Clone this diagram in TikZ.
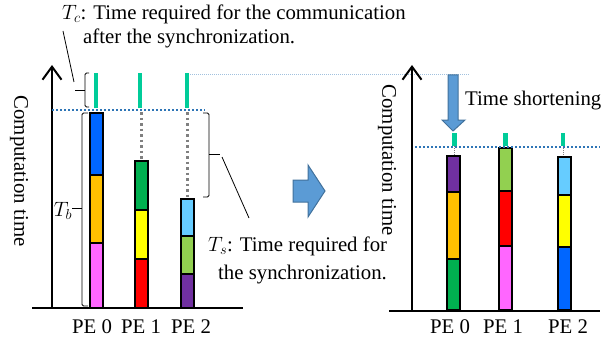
\documentclass[tikz,border=0pt]{standalone}
\usepackage{fontspec}
\setmainfont{Liberation Serif}
\usetikzlibrary{arrows.meta}

\definecolor{pblue}{RGB}{0,102,255}
\definecolor{porange}{RGB}{255,192,0}
\definecolor{ppink}{RGB}{255,102,255}
\definecolor{pgreen}{RGB}{0,176,80}
\definecolor{pyellow}{RGB}{255,255,0}
\definecolor{pred}{RGB}{255,0,0}
\definecolor{psky}{RGB}{102,204,255}
\definecolor{plime}{RGB}{146,208,80}
\definecolor{ppurple}{RGB}{112,48,160}
\definecolor{commteal}{RGB}{0,204,153}
\definecolor{syncblue}{RGB}{46,117,182}
\definecolor{arrowfill}{RGB}{91,155,213}
\definecolor{arrowedge}{RGB}{65,113,156}

% one piece of work on a PE: left x, top y, bottom y, colour
\newcommand{\peseg}[4]{\draw[seg, fill=#4] (#1,#2) rectangle (#1+13,#3);}

\begin{document}
\begin{tikzpicture}[x=1pt, y=-1pt,
    every node/.style={font=\fontsize{20.8}{25}\selectfont, inner sep=0pt},
    seg/.style={draw=black, line width=2pt},
    timeaxis/.style={line width=2pt, -{Straight Barb[length=13pt, width=19pt, line width=2pt]}},
    baseline/.style={line width=2.5pt},
    syncline/.style={draw=syncblue, line width=2pt, dash pattern=on 2pt off 2pt},
    waitline/.style={draw=gray, line width=2.5pt, dash pattern=on 2.5pt off 3pt},
    commbar/.style={fill=commteal},
    brace/.style={line width=0.8pt, rounded corners=1.5pt},
    blockarrow/.style={fill=arrowfill, draw=arrowedge, line width=1pt}]
  \useasboundingbox (0,0) rectangle (612,342);

  % ---------- before: PEs wait for the slowest one ----------
  \draw[timeaxis] (52,308) -- (52,65);
  \draw[baseline] (32,308) -- (243,308);
  \node[rotate=-90] (ctleft) at (19,171) {Computation time};

  % waiting time of PE 1 and PE 2
  \draw[waitline] (141.5,112) -- (141.5,161);
  \draw[waitline] (187.5,112) -- (187.5,199);

  % PE 0
  \peseg{90}{113}{175}{pblue}
  \peseg{90}{175}{243}{porange}
  \peseg{90}{243}{308}{ppink}
  % PE 1
  \peseg{135}{161}{210}{pgreen}
  \peseg{135}{210}{259}{pyellow}
  \peseg{135}{259}{308}{pred}
  % PE 2
  \peseg{181}{199}{236}{psky}
  \peseg{181}{236}{274}{plime}
  \peseg{181}{274}{308}{ppurple}

  % synchronization point and communication after it
  \draw[syncline] (52,110) -- (205,110);
  \fill[commbar] (93.5,73) rectangle (97.5,108);
  \fill[commbar] (137.5,73) rectangle (141.5,108);
  \fill[commbar] (185,73) rectangle (189,108);
  \draw[draw=syncblue!45, line width=0.6pt, dash pattern=on 1pt off 1pt] (190,74) -- (470,74);

  % T_c
  \draw[brace] (89,73) -- (85,73) -- (85,107) -- (89,107);
  \draw[line width=0.8pt] (75,90) -- (85,90);
  \node[anchor=west] (tc) at (62,14) {$T_c$: Time required for the communication};
  \node[anchor=west] (tc2) at (83,38) {after the synchronization.};
  \coordinate (tcfoot) at (63,31);
  \coordinate (tctip) at (74,82);
  \draw[line width=0.8pt] (tcfoot) -- (tctip);

  % T_b
  \draw[brace] (88,113) -- (82,113) -- (82,306) -- (88,306);
  \draw[line width=0.8pt] (72,208) -- (82,208);
  \node (tb) at (63,211) {$T_b$};

  % T_s
  \draw[brace] (203,113) -- (209,113) -- (209,197) -- (203,197);
  \draw[line width=0.8pt] (209,154) -- (220,154);
  \node[anchor=west] (ts) at (208,246) {$T_s$: Time required for};
  \node[anchor=west] (ts2) at (218,275) {the synchronization.};
  \coordinate (tsfoot) at (222,157);
  \coordinate (tshead) at (249,218);
  \draw[line width=0.8pt] (tsfoot) -- (tshead);

  \node (pe0l) at (92,327) {PE 0};
  \node (pe1l) at (141,327) {PE 1};
  \node (pe2l) at (191,327) {PE 2};

  % ---------- arrow between the two cases ----------
  \draw[blockarrow] (293,180) -- (308,180) -- (308,165) -- (325,191)
      -- (308,217) -- (308,202) -- (293,202) -- cycle;

  % ---------- after: balanced work ----------
  \draw[timeaxis] (412,311) -- (412,65);
  \draw[baseline] (389,311) -- (600,311);
  \node[rotate=-90] (ctright) at (387,160) {Computation time};

  \draw[gray, line width=0.8pt, dash pattern=on 1pt off 1pt] (454.5,146) -- (454.5,156);
  \draw[gray, line width=0.8pt, dash pattern=on 1pt off 1pt] (563,146) -- (563,157);

  % PE 0
  \peseg{447}{156}{192}{ppurple}
  \peseg{447}{192}{259}{porange}
  \peseg{447}{259}{310}{pgreen}
  % PE 1
  \peseg{499}{148}{191}{plime}
  \peseg{499}{191}{246}{pred}
  \peseg{499}{246}{310}{ppink}
  % PE 2
  \peseg{558}{157}{195}{psky}
  \peseg{558}{195}{247}{pyellow}
  \peseg{558}{247}{310}{pblue}

  \draw[syncline] (415,147) -- (600,147);
  \fill[commbar] (452,133) rectangle (457,146);
  \fill[commbar] (503,133) rectangle (508,146);
  \fill[commbar] (561,133) rectangle (565,146);

  % shortening
  \draw[blockarrow] (448,75) -- (458,75) -- (458,120) -- (465,120)
      -- (453,131) -- (442,120) -- (448,120) -- cycle;
  \node[anchor=west] (short) at (465,101) {Time shortening};

  \node (pe0r) at (450,327) {PE 0};
  \node (pe1r) at (503,327) {PE 1};
  \node (pe2r) at (568,327) {PE 2};
\end{tikzpicture}
\end{document}
